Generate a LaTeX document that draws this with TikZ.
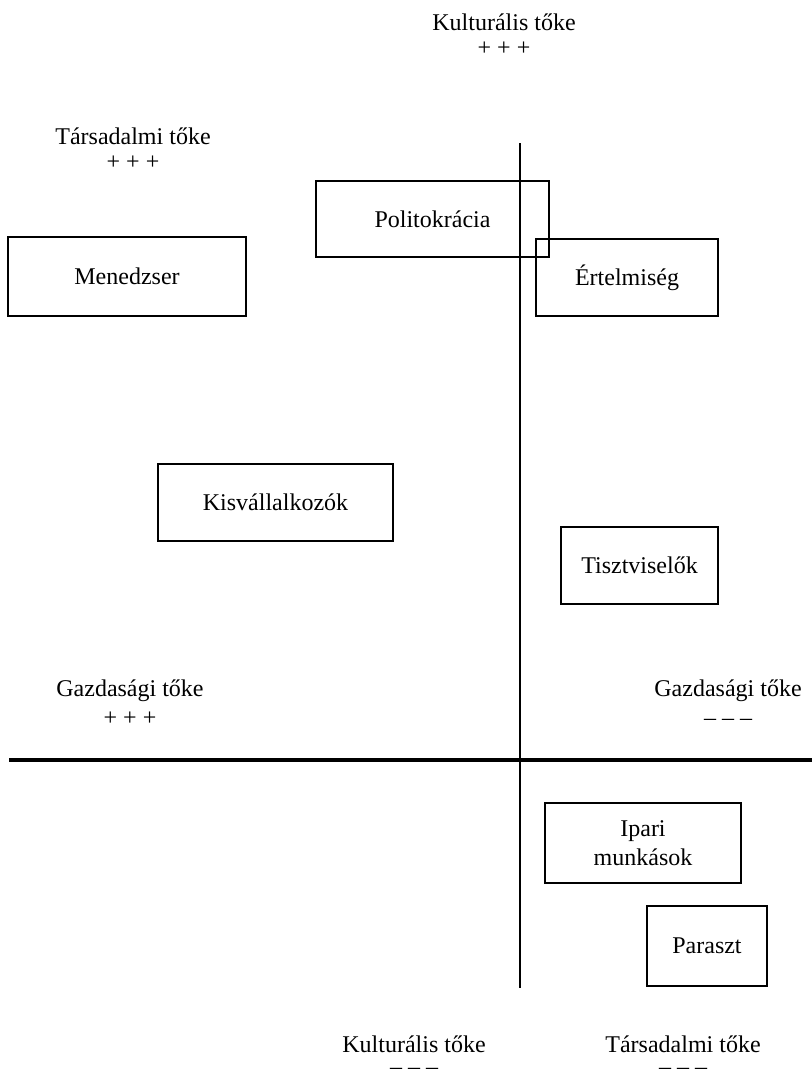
\documentclass[tikz,border=0pt]{standalone}
\usepackage{fontspec}
\setmainfont{Liberation Serif}
\begin{document}
\begin{tikzpicture}[x=0.75pt,y=-0.75pt,
    csoport/.style={draw,line width=0.9pt,inner sep=0pt,align=center},
    felirat/.style={inner sep=0pt,align=center},
    every node/.style={font=\fontsize{18}{21.6}\selectfont}]
      \useasboundingbox (0,0) rectangle (812,1079);
      % tengelyek
      \coordinate (fent) at (520,143);
      \coordinate (lent) at (520,988);
      \coordinate (bal) at (9,760);
      \coordinate (jobb) at (812,760);
      \draw[line width=1.3pt] (fent) -- (lent);
      \draw[line width=2.4pt] (bal) -- (jobb);
      % tengelyfeliratok
      \node[felirat] (kultfent) at (504,22) {Kulturális tőke};
      \node[felirat] (kultfentp) at (504,49) {+ + +};
      \node[felirat] (tarsfent) at (133,136) {Társadalmi tőke};
      \node[felirat] (tarsfentp) at (133,163) {+ + +};
      \node[felirat] (gazdbal) at (130,691) {Gazdasági tőke};
      \node[felirat] (gazdbalp) at (130,719) {+ + +};
      \node[felirat] (gazdjobb) at (728,691) {Gazdasági tőke};
      \node[felirat] (gazdjobbm) at (728,722) {– – –};
      \node[felirat] (kultlent) at (414,1044) {Kulturális tőke};
      \node[felirat] (kultlentm) at (414,1071) {– – –};
      \node[felirat] (tarslent) at (683,1044) {Társadalmi tőke};
      \node[felirat] (tarslentm) at (683,1071) {– – –};
      % csoportok
      \node[csoport,minimum width=174.75pt,minimum height=57pt] (polit) at (432.5,219) {Politokrácia};
      \node[csoport,minimum width=178.5pt,minimum height=59.25pt] (menedzser) at (127,276.5) {Menedzser};
      \node[csoport,minimum width=136.5pt,minimum height=57.75pt] (ertelmiseg) at (627,277.5) {Értelmiség};
      \node[csoport,minimum width=176.25pt,minimum height=57.75pt] (kisvall) at (275.5,502.5) {Kisvállalkozók};
      \node[csoport,minimum width=117.75pt,minimum height=57.75pt] (tiszt) at (639.5,565.5) {Tisztviselők};
      \node[csoport,minimum width=147pt,minimum height=60pt] (ipari) at (643,843) {Ipari\\munkások};
      \node[csoport,minimum width=90pt,minimum height=60pt] (paraszt) at (707,946) {Paraszt};
    \end{tikzpicture}
\end{document}
